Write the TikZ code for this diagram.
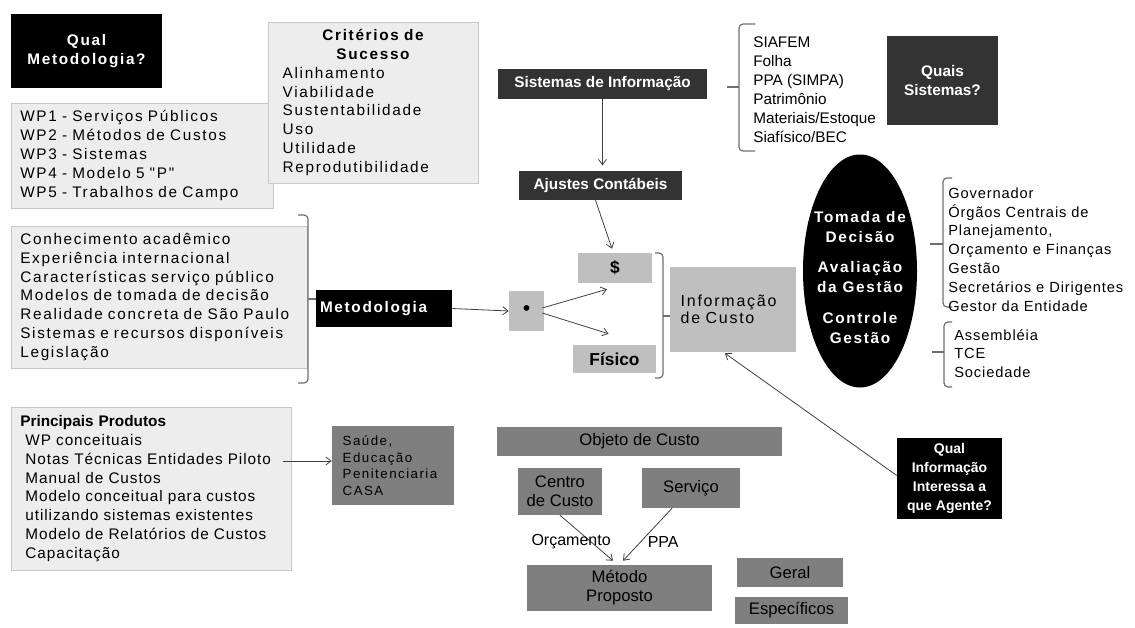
\documentclass[tikz,border=0pt]{standalone}
\usepackage{fontspec}
\setmainfont{Liberation Sans}
\newfontfamily\spaced[LetterSpace=11]{Liberation Sans}
\newfontfamily\lessspaced[LetterSpace=6]{Liberation Sans}
\usetikzlibrary{shapes.geometric}
\usetikzlibrary{calc}
\usetikzlibrary{arrows.meta}
\definecolor{boxfill}{HTML}{EDEDED}
\definecolor{boxline}{HTML}{C8C8C8}
\definecolor{midgray}{HTML}{BFBFBF}
\definecolor{objgray}{HTML}{7F7F7F}
\definecolor{nearblack}{HTML}{333333}
\definecolor{brkgray}{HTML}{6E6E6E}
\definecolor{arrgray}{HTML}{404040}
\tikzset{
    sz/.style 2 args={minimum width=#1*0.75pt, minimum height=#2*0.75pt},
    qbox/.style={fill=black, text=white, align=center, inner sep=0pt,
        font=\spaced\bfseries\fontsize{11.5}{14}\selectfont},
    sbox/.style={fill=nearblack, text=white, align=center, inner sep=0pt,
        font=\bfseries\fontsize{11.5}{14}\selectfont},
    lbox/.style={draw=boxline, fill=boxfill, line width=0.75pt, align=left,
        inner xsep=7pt, inner ysep=0pt, font=\spaced\fontsize{11.5}{14.1}\selectfont},
    mbox/.style={fill=midgray, inner sep=0pt, font=\bfseries\fontsize{13}{15}\selectfont},
    gbox/.style={fill=objgray, align=center, inner sep=0pt,
        font=\fontsize{12.5}{14.25}\selectfont},
    brk/.style={draw=brkgray, line width=0.9pt, rounded corners=3pt},
    arr/.style={->, draw=arrgray, line width=0.6pt},
    lbl/.style={font=\fontsize{12}{14}\selectfont, inner sep=1pt}
}
\begin{document}
\begin{tikzpicture}[x=0.75pt, y=-0.75pt, >={Straight Barb[length=4pt,width=6pt]}]
    \useasboundingbox (0,0) rectangle (1135,628);

    % metodologia, criterios
    \node[qbox, sz={151}{74}] (qmet) at (86.5,51) {Qual\\Metodologia?};
    \node[lbox, sz={262}{105}, text width=182.5pt] (wplist) at (142,155.5)
    {WP1 - Serviços Públicos\\WP2 - Métodos de Custos\\WP3 - Sistemas\\WP4 - Modelo 5 "P"\\WP5 - Trabalhos de Campo};
    \node[lbox, sz={210}{161}, inner xsep=11pt, text width=135.5pt] (crit) at (373,102.5)
    {\makebox[\linewidth]{\bfseries Critérios de}\\\makebox[\linewidth]{\bfseries Sucesso}\\Alinhamento\\Viabilidade\\Sustentabilidade\\Uso\\Utilidade\\Reprodutibilidade};

    \node[lbox, sz={296}{142}, text width=208pt] (conhec) at (159,297)
    {Conhecimento acadêmico\\Experiência internacional\\Características serviço público\\Modelos de tomada de decisão\\Realidade concreta de São Paulo\\Sistemas e recursos disponíveis\\Legislação};
    \draw[brk] (298,215) -| (308,383) -- (298,383);
    \draw[brk] (308,299) -- (316,299);
    \node[qbox, sz={136}{37}, align=left, text width=96pt, inner xsep=3pt] (metod) at (384,308.5) {Metodologia};

    %%%%%%

    \node[sbox, sz={209}{30}] (sisinfo) at (602.5,84) {Sistemas de Informação};
    \node[sbox, sz={163}{29}] (ajustes) at (600.5,185.5) {Ajustes Contábeis};
    \draw[arr, shorten >=4pt] (sisinfo.south) -- (sisinfo.south |- ajustes.north);

    \draw[brk] (755,24) -| (739,151) -- (755,151);
    \draw[brk] (739,87) -- (727,87);
    \node[anchor=west, inner sep=0pt, align=left, font=\fontsize{11.5}{14.25}\selectfont] (syslist) at (753,89.5)
    {SIAFEM\\Folha\\PPA (SIMPA)\\Patrimônio\\Materiais/Estoque\\Siafísico/BEC};
    \node[sbox, sz={111}{89}] (quaissis) at (942.5,80.5) {Quais\\Sistemas?};

    \node[mbox, sz={74}{30}] (dollar) at (615,268) {\$};
    \node[mbox, sz={83}{28}] (fisico) at (614.5,359) {Físico};
    \node[mbox, sz={35}{40}, font=\fontsize{16}{16}\selectfont] (ponto) at (526.5,311) {\textbullet};
    \draw[arr] ($(ajustes.south)+(-5,0)$) -- ($(dollar.north)+(-3,-4)$);
    \draw[arr] (metod.east) -- (ponto.west);
    \draw[arr] ($(ponto.east)+(-2,-3)$) -- ($(dollar.south)+(-8,6)$);
    \draw[arr] ($(ponto.east)+(-2,2)$) -- ($(fisico.north)+(-6,-11)$);

    \draw[brk] (655,253) -| (663,378) -- (655,378);
    \draw[brk] (663,316) -- (670,316);
    \node[mbox, sz={126}{85}, align=left, text width=78.5pt, inner xsep=8pt,
        font=\spaced\fontsize{12}{13}\selectfont] (infcusto) at (733,309.5) {Informação\\de Custo};

    %%%%%%

    \node[ellipse, fill=black, sz={114}{233}, inner sep=0pt] (decis) at (860,271) {};
    \node[text=white, align=center, inner sep=0pt, font=\spaced\bfseries\fontsize{11.5}{15}\selectfont] (decistxt) at (860,277.5)
    {Tomada de\\Decisão\\[8pt]Avaliação\\da Gestão\\[8pt]Controle\\Gestão};

    \draw[brk] (952,178) -| (943,307) -- (952,307);
    \draw[brk] (943,244) -- (930,244);
    \node[anchor=west, inner sep=0pt, align=left, font=\lessspaced\fontsize{11}{14.1}\selectfont] (govlist) at (948,249.5)
    {Governador\\Órgãos Centrais de\\Planejamento,\\Orçamento e Finanças\\Gestão\\Secretários e Dirigentes\\Gestor da Entidade};

    \draw[brk] (952,322) -| (944,387) -- (952,387);
    \draw[brk] (944,352) -- (932,352);
    \node[anchor=west, inner sep=0pt, align=left, font=\lessspaced\fontsize{11}{14.1}\selectfont] (agtlist) at (954,353.5)
    {Assembléia\\TCE\\Sociedade};

    %%%%%%

    \node[lbox, sz={280}{163}, text width=196pt, font=\lessspaced\fontsize{11.5}{14.1}\selectfont] (produtos) at (151,488.5)
    {{\rmfamily\bfseries Principais Produtos}\\~WP conceituais\\~Notas Técnicas Entidades Piloto\\~Manual de Custos\\~Modelo conceitual para custos\\~utilizando sistemas existentes\\~Modelo de Relatórios de Custos\\~Capacitação};
    \node[gbox, sz={122}{79}, align=left, text width=75.5pt, inner xsep=8pt,
        font=\spaced\fontsize{10}{12.5}\selectfont] (saude) at (393,465.5) {Saúde,\\Educação\\Penitenciaria\\CASA};
    \draw[arr] ($(produtos.east)+(-9,-27.5)$) -- ($(saude.west)+(0,-4.5)$);

    \node[gbox, sz={285}{29}] (objeto) at (639.5,441.5) {Objeto de Custo};
    \node[gbox, sz={84}{47}] (centro) at (560,491.5) {Centro\\de Custo};
    \node[gbox, sz={98}{40}] (servico) at (691,488) {Serviço};
    \node[gbox, sz={185}{46}] (metodo) at (619.5,588) {Método\\Proposto};
    \node[gbox, sz={106}{29}] (geral) at (790,572.5) {Geral};
    \node[gbox, sz={113}{27}] (especificos) at (791.5,610.5) {Específicos};
    \draw[arr] (centro.south) -- node[lbl, pos=0.587, xshift=-15pt] (orc) {Orçamento} ($(metodo.north)+(-6.5,-4)$);
    \draw[arr] ($(servico.south)+(-19,0)$) -- node[lbl, pos=0.642, xshift=17pt] (ppa) {PPA} ($(metodo.north)+(3.5,-4)$);

    \node[qbox, sz={105}{81}, font=\bfseries\fontsize{10.5}{14.25}\selectfont] (qualinfo) at (949.5,478.5)
    {Qual\\Informação\\Interessa a\\que Agente?};
    \draw[arr] ($(qualinfo.west)+(0,-3)$) -- ($(infcusto.south)+(-8,1)$);

\end{tikzpicture}
\end{document}
